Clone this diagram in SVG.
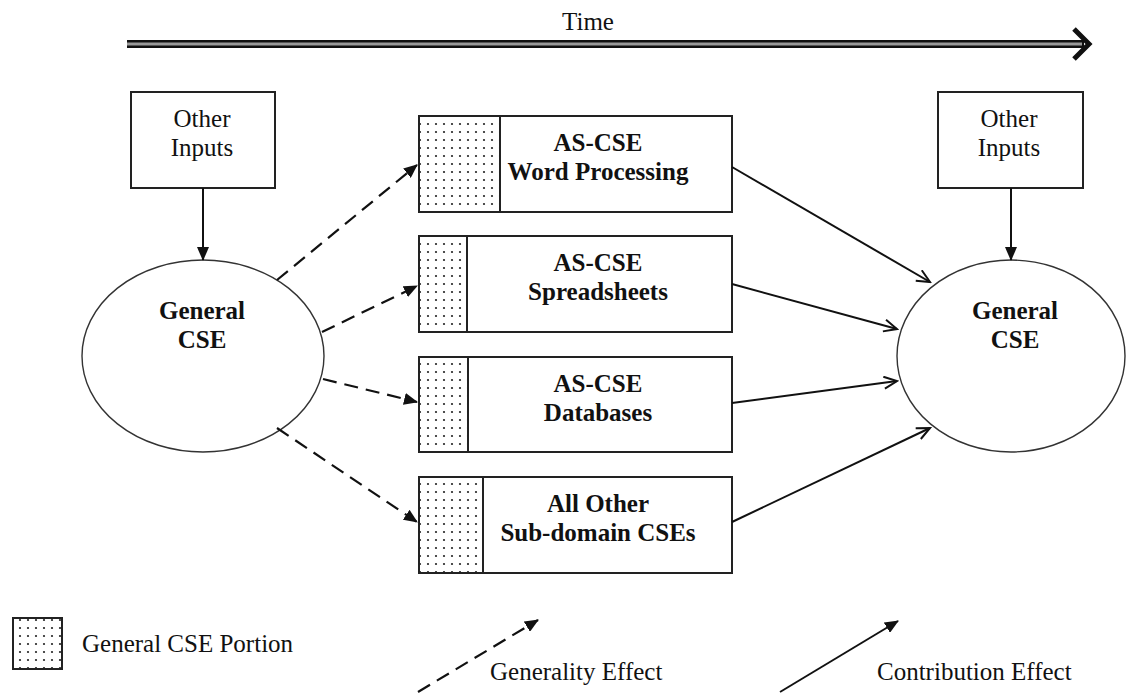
<svg xmlns="http://www.w3.org/2000/svg" width="1130" height="694" viewBox="0 0 1130 694">
<style>
  text { font-family: "Liberation Serif", "Times New Roman", serif; font-size: 25px; fill: #111; }
  .b { font-weight: bold; }
  .m { text-anchor: middle; }
  .box { fill: #fff; stroke: #222; stroke-width: 2; }
  .ell { fill: #fff; stroke: #333; stroke-width: 1.4; }
  .dots { fill: url(#dots); stroke: #222; stroke-width: 2; }
  .sol { fill: none; stroke: #111; stroke-width: 2; }
  .dash { fill: none; stroke: #111; stroke-width: 2.2; stroke-dasharray: 14 8; }
</style>
<defs>
  <pattern id="dots" width="8" height="8" patternUnits="userSpaceOnUse">
    <rect width="8" height="8" fill="#fff"/>
    <circle cx="4" cy="4" r="1.1" fill="#222"/>
  </pattern>
  <marker id="fill" markerUnits="userSpaceOnUse" markerWidth="14" markerHeight="12" refX="13" refY="6" orient="auto">
    <path d="M0,0 L14,6 L0,12 z" fill="#111"/>
  </marker>
  <marker id="open" markerUnits="userSpaceOnUse" markerWidth="16" markerHeight="14" refX="14" refY="7" orient="auto">
    <path d="M1,1 L14,7 L1,13" fill="none" stroke="#111" stroke-width="2"/>
  </marker>
</defs>

<g id="time">
  <text class="m" x="588" y="30">Time</text>
  <line x1="127" y1="44" x2="1084" y2="44" stroke="#111" stroke-width="8"/>
  <line x1="127" y1="44" x2="1082" y2="44" stroke="#999" stroke-width="3"/>
  <polyline points="1074,29 1089,44 1074,59" fill="none" stroke="#111" stroke-width="5"/>
</g>

<g id="inputs-left">
  <rect class="box" x="131" y="92" width="144" height="96"/>
  <text class="m" x="202" y="127">Other</text>
  <text class="m" x="202" y="156">Inputs</text>
</g>
<g id="inputs-right">
  <rect class="box" x="938" y="92" width="145" height="96"/>
  <text class="m" x="1009" y="127">Other</text>
  <text class="m" x="1009" y="156">Inputs</text>
</g>

<g id="cse-left">
  <ellipse class="ell" cx="203" cy="356" rx="121" ry="96"/>
  <text class="m b" x="202" y="319">General</text>
  <text class="m b" x="202" y="348">CSE</text>
</g>
<g id="cse-right">
  <ellipse class="ell" cx="1011" cy="356" rx="114" ry="96"/>
  <text class="m b" x="1015" y="319">General</text>
  <text class="m b" x="1015" y="348">CSE</text>
</g>

<g id="as-word">
  <rect class="box" x="419" y="116" width="313" height="96"/>
  <rect class="dots" x="419" y="116" width="81" height="96"/>
  <text class="m b" x="598" y="151">AS-CSE</text>
  <text class="m b" x="598" y="180">Word Processing</text>
</g>
<g id="as-spread">
  <rect class="box" x="419" y="236" width="313" height="96"/>
  <rect class="dots" x="419" y="236" width="48" height="96"/>
  <text class="m b" x="598" y="271">AS-CSE</text>
  <text class="m b" x="598" y="300">Spreadsheets</text>
</g>
<g id="as-db">
  <rect class="box" x="419" y="357" width="313" height="95"/>
  <rect class="dots" x="419" y="357" width="49" height="95"/>
  <text class="m b" x="598" y="392">AS-CSE</text>
  <text class="m b" x="598" y="421">Databases</text>
</g>
<g id="as-other">
  <rect class="box" x="419" y="477" width="313" height="96"/>
  <rect class="dots" x="419" y="477" width="64" height="96"/>
  <text class="m b" x="598" y="512">All Other</text>
  <text class="m b" x="598" y="541">Sub-domain CSEs</text>
</g>

<g id="connectors">
  <line class="sol" x1="203" y1="188" x2="203" y2="260" marker-end="url(#fill)"/>
  <line class="sol" x1="1011" y1="188" x2="1011" y2="260" marker-end="url(#fill)"/>
  <line class="dash" x1="277" y1="280" x2="417" y2="165" marker-end="url(#fill)"/>
  <line class="dash" x1="322" y1="332" x2="417" y2="286" marker-end="url(#fill)"/>
  <line class="dash" x1="323" y1="379" x2="417" y2="402" marker-end="url(#fill)"/>
  <line class="dash" x1="277" y1="428" x2="417" y2="522" marker-end="url(#fill)"/>
  <line class="sol" x1="732" y1="167" x2="930" y2="282" marker-end="url(#open)"/>
  <line class="sol" x1="732" y1="284" x2="897" y2="329" marker-end="url(#open)"/>
  <line class="sol" x1="732" y1="403" x2="897" y2="381" marker-end="url(#open)"/>
  <line class="sol" x1="732" y1="522" x2="930" y2="428" marker-end="url(#open)"/>
</g>

<g id="legend">
  <rect class="dots" x="13" y="618" width="49" height="51"/>
  <text x="82" y="652">General CSE Portion</text>
  <line class="dash" x1="418" y1="692" x2="538" y2="620" marker-end="url(#fill)"/>
  <text x="490" y="680">Generality Effect</text>
  <line class="sol" x1="780" y1="692" x2="898" y2="621" marker-end="url(#fill)"/>
  <text x="877" y="680">Contribution Effect</text>
</g>
</svg>
